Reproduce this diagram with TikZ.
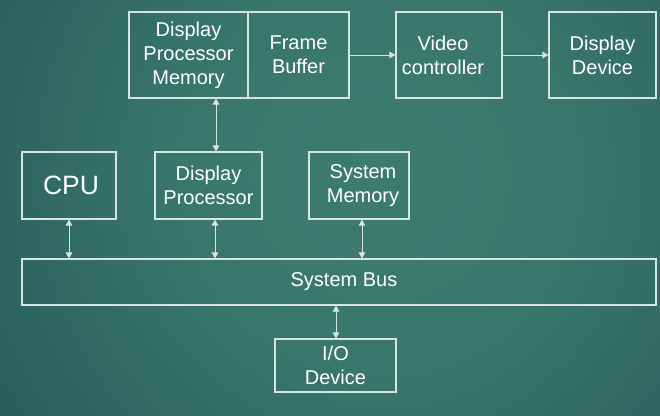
\documentclass[tikz,border=0pt]{standalone}
\usepackage{fontspec}
\setmainfont{Liberation Sans}
\usetikzlibrary{arrows.meta}
\definecolor{bgin}{HTML}{3D7C6D}
\definecolor{bgmid}{HTML}{235859}
\definecolor{bgout}{HTML}{15384A}
\definecolor{linec}{HTML}{D8E4E0}
\pgfdeclareradialshading{bgshade}{\pgfpoint{0bp}{0bp}}{color(0bp)=(bgin); color(9bp)=(bgin!85!bgmid); color(23bp)=(bgmid); color(36bp)=(bgout); color(50bp)=(bgout)}
\begin{document}
\begin{tikzpicture}[x=1pt,y=-1pt,
  box/.style={draw=linec, line width=1.1pt, rectangle, inner sep=0pt, align=center,
    text=white, font=\fontsize{20}{24}\selectfont},
  conn/.style={draw=linec, line width=1pt},
  tip/.style={-{Triangle[length=6pt,width=6.5pt]}},
  both/.style={{Triangle[length=6pt,width=6.5pt]}-{Triangle[length=6pt,width=6.5pt]}}]
\begin{scope}
\clip (0,0) rectangle (660,415);
\shade[shading=bgshade] (380,175) circle (560);
\end{scope}
\useasboundingbox (0,0) rectangle (660,415);

\node[box, minimum width=119pt, minimum height=86pt] (dpm) at (188.5,55) {Display\\Processor\\Memory};
\node[box, minimum width=101pt, minimum height=86pt] (fb) at (298.5,55) {Frame\\Buffer};
\node[box, minimum width=106pt, minimum height=86pt] (vc) at (449,55) {\hspace*{-12pt}Video\\\hspace*{-12pt}controller};
\node[box, minimum width=107pt, minimum height=86pt] (dd) at (602.5,55) {Display\\Device};

\node[box, minimum width=94pt, minimum height=67pt, font=\fontsize{26.5}{30}\selectfont] (cpu) at (69,185.5) {\hspace*{4pt}CPU};
\node[box, minimum width=107pt, minimum height=67pt] (dp) at (208.5,185.5) {Display\\Processor};
\node[box, minimum width=100pt, minimum height=67pt] (sm) at (359,185.5) {\hspace*{8pt}System\\\hspace*{8pt}Memory};

\node[box, minimum width=634pt, minimum height=46pt] (bus) at (339,282) {\hspace*{10pt}System Bus};
\node[box, minimum width=121pt, minimum height=53pt] (io) at (335.5,365.5) {I/O\\Device};

\coordinate (x69) at (69,0);
\coordinate (x215) at (215,0);
\coordinate (x216) at (216,0);
\coordinate (x362) at (362,0);
\coordinate (x336) at (336,0);

\draw[conn, tip] (fb.east) -- (vc.west);
\draw[conn, tip] (vc.east) -- (dd.west);
\draw[conn, both] (dpm.south -| x216) -- (dp.north -| x216);
\draw[conn, both] (cpu.south -| x69) -- (bus.north -| x69);
\draw[conn, both] (dp.south -| x215) -- (bus.north -| x215);
\draw[conn, both] (sm.south -| x362) -- (bus.north -| x362);
\draw[conn, both] (bus.south -| x336) -- (io.north -| x336);
\end{tikzpicture}
\end{document}
